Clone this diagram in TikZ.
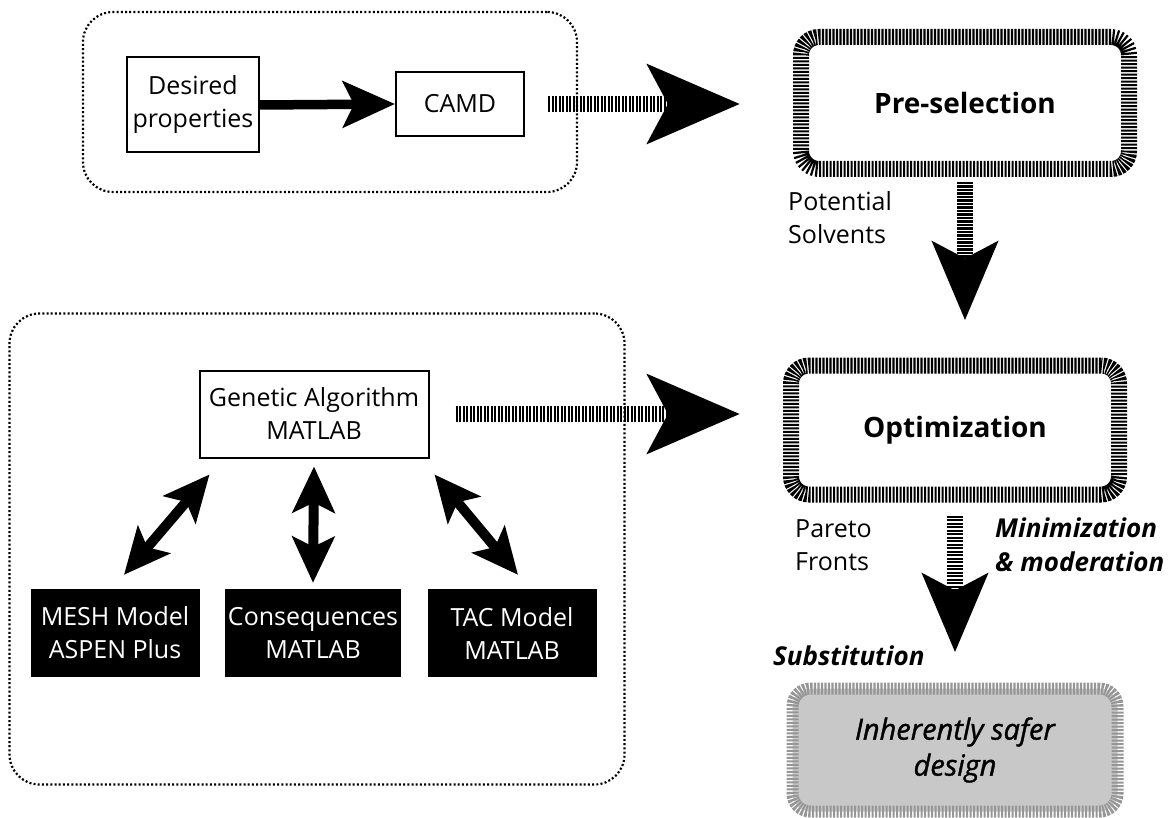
\documentclass[tikz,border=0pt]{standalone}
\usepackage{fontspec}
\setmainfont{Open Sans}
\newfontfamily\safefont[FakeBold=1.2]{Open Sans}
\usetikzlibrary{arrows.meta,positioning}
\definecolor{safefill}{RGB}{200,200,200}
\definecolor{safeedge}{RGB}{150,150,150}
\newcommand{\txt}{\fontsize{25}{33}\selectfont}
\newcommand{\bigtxt}{\fontsize{28}{34}\selectfont\bfseries}

\tikzset{
  group/.style={draw, line width=2.2pt, dash pattern=on 2pt off 2.2pt, rounded corners=30pt},
  plainbox/.style={draw, line width=2pt, align=center, font=\txt, inner sep=0pt},
  darkbox/.style={fill=black, text=white, align=center, font=\txt, minimum width=169pt, minimum height=88pt},
  hatchbox/.style={draw, line width=16pt, dash pattern=on 2.2pt off 1.3pt, rounded corners=18pt, font=\bigtxt},
  lbl/.style={align=left, font=\txt, inner sep=0pt, anchor=west},
  bigarrow/.style={line width=9.5pt, -{Stealth[length=52pt, width=46pt, inset=11pt]}},
  twoway/.style={line width=10pt, {Stealth[length=46pt, width=42pt, inset=10pt]}-{Stealth[length=46pt, width=42pt, inset=10pt]}},
  hatcharrow/.style={line width=16pt, dash pattern=on 2.2pt off 1.3pt, -{Stealth[length=92pt, width=78pt, inset=20pt]}},
  hatchdown/.style={line width=16pt, dash pattern=on 2.2pt off 1.3pt, -{Stealth[length=78pt, width=64pt, inset=16pt]}}
}

\begin{document}
\begin{tikzpicture}[x=1pt, y=-1pt]
  \useasboundingbox (0,0) rectangle (1169,818);

  \node[group, minimum width=494pt, minimum height=180pt] (topgroup) at (330,102) {};
  \node[group, minimum width=615pt, minimum height=471pt] (lowgroup) at (317,549) {};

  \node[plainbox, minimum width=132pt, minimum height=95pt] (desired) at (193,105) {Desired\\properties};
  \node[plainbox, minimum width=128pt, minimum height=64pt] (camd) at (460,104) {CAMD};

  \node[plainbox, minimum width=229pt, minimum height=87pt] (ga) at (314,414) {Genetic Algorithm\\MATLAB};
  \node[darkbox] (mesh) at (115,633) {MESH Model\\ASPEN Plus};
  \node[darkbox] (cons) at (313,633) {Consequences\\MATLAB};
  \node[darkbox] (tac) at (512,633) {TAC Model\\MATLAB};

  \node[hatchbox, minimum width=328pt, minimum height=132pt] (pre) at (965,103) {Pre-selection};
  \node[hatchbox, minimum width=328pt, minimum height=129pt] (opt) at (955,430) {Optimization};
  \node[hatchbox, draw=safeedge, fill=safefill, line width=12pt, minimum width=325pt, minimum height=123pt,
        font=\fontsize{29}{36}\selectfont\safefont\itshape, align=center] (safe) at (955,750) {Inherently safer\\design};

  \node[lbl] (potential) at (788,218) {Potential\\Solvents};
  \node[lbl] (pareto) at (795,545) {Pareto\\Fronts};
  \node[lbl, font=\fontsize{26}{34}\selectfont\bfseries\itshape] (minim) at (995,545) {Minimization\\\& moderation};
  \node[lbl, font=\fontsize{26}{34}\selectfont\bfseries\itshape] (subst) at (773,656) {Substitution};

  \draw[bigarrow] (desired.east) -- (camd.west);
  \draw[hatcharrow, shorten <=23pt, shorten >=53pt] (camd.east) -- (camd.east -| pre.west);
  \draw[hatcharrow, shorten <=26pt, shorten >=43pt] (ga.east) -- (ga.east -| opt.west);
  \draw[hatchdown, shorten <=5pt, shorten >=37pt] (pre.south) -- (pre.south |- opt.north);
  \draw[hatchdown, shorten <=13pt, shorten >=30pt] (opt.south) -- (opt.south |- safe.north);

  \draw[twoway] ([xshift=9pt, yshift=14pt]mesh.north) -- ([xshift=11pt, yshift=-16pt]ga.south west);
  \draw[twoway] ([yshift=6pt]cons.north) -- ([yshift=-8pt]ga.south);
  \draw[twoway] ([xshift=6pt, yshift=14pt]tac.north) -- ([xshift=5pt, yshift=-16pt]ga.south east);
\end{tikzpicture}
\end{document}
